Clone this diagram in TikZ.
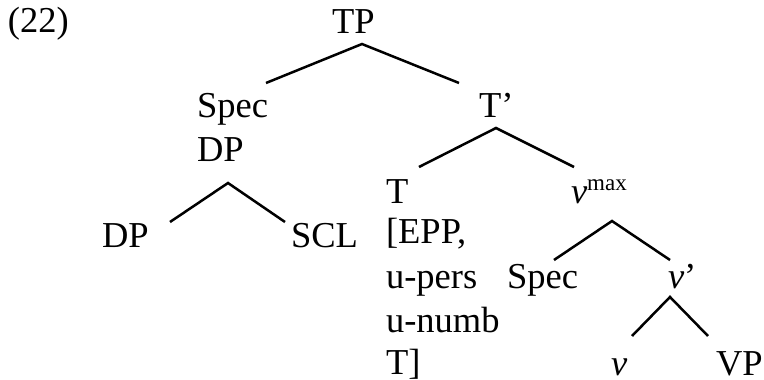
\documentclass[tikz,border=0pt]{standalone}
\usepackage{fontspec}
\setmainfont{Liberation Serif}
\begin{document}
\begin{tikzpicture}[x=1pt,y=-1pt,
  lbl/.style={anchor=base west,inner sep=0pt,outer sep=0pt,font=\fontsize{36.5}{42}\selectfont},
  branch/.style={line width=2.5pt}]
\useasboundingbox (0,0) rectangle (764,380);
% labels
\node[lbl] (ex) at (8,32) {(22)};
\node[lbl] (TP) at (332,33) {TP};
\node[lbl] (spec1) at (197,117) {Spec};
\node[lbl] (specdp) at (197,161) {DP};
\node[lbl] (Tbar) at (479,117) {T’};
\node[lbl] (dp2) at (102,247) {DP};
\node[lbl] (scl) at (291,247) {SCL};
\node[lbl] (T) at (386,203) {T};
\node[lbl] (f1) at (386,243) {[EPP,};
\node[lbl] (f2) at (386,288) {u-pers};
\node[lbl] (f3) at (386,332) {u-numb};
\node[lbl] (f4) at (386,374) {T]};
\node[lbl] (vmax) at (571,203) {\textit{v}\raisebox{13pt}{\fontsize{23}{23}\selectfont max}};
\node[lbl] (spec2) at (507,288) {Spec};
\node[lbl] (vbar) at (668,288) {\textit{v}’};
\node[lbl] (v) at (611,375) {\textit{v}};
\node[lbl] (VP) at (716,375) {VP};
% branch end points
\coordinate (TPb) at (362,44);
\coordinate (specT) at (266,83);
\coordinate (TbarT) at (459,83);
\coordinate (Tbarb) at (496,128);
\coordinate (TT) at (419,167);
\coordinate (vmaxT) at (574,167);
\coordinate (specdpb) at (228,183);
\coordinate (dp2T) at (170,222);
\coordinate (sclT) at (285,222);
\coordinate (vmaxb) at (612,221);
\coordinate (spec2T) at (554,260);
\coordinate (vbarT) at (670,260);
\coordinate (vbarb) at (670,297);
\coordinate (vT) at (632,336);
\coordinate (VPT) at (708,336);
% branches
\draw[branch] (specT) -- (TPb) -- (TbarT);
\draw[branch] (TT) -- (Tbarb) -- (vmaxT);
\draw[branch] (dp2T) -- (specdpb) -- (sclT);
\draw[branch] (spec2T) -- (vmaxb) -- (vbarT);
\draw[branch] (vT) -- (vbarb) -- (VPT);
\end{tikzpicture}
\end{document}
